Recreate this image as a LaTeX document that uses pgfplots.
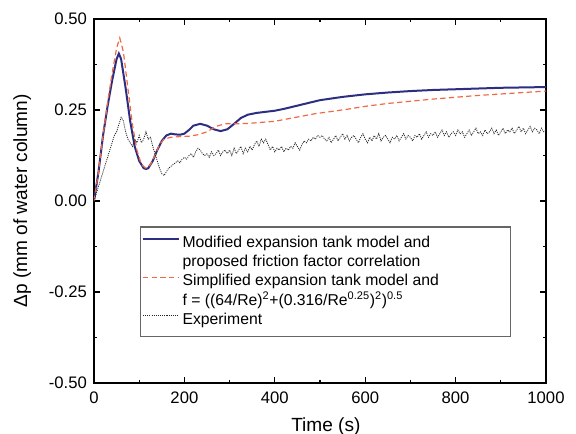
\documentclass[border=0pt]{standalone}
\usepackage{pgfplots}
\pgfplotsset{compat=1.18}
\usepackage{fontspec}
\setmainfont{Liberation Sans}
\definecolor{navyline}{RGB}{45,45,130}
\definecolor{redline}{RGB}{240,105,70}
\begin{document}
\begin{tikzpicture}
\useasboundingbox (-70.5pt,-38.25pt) rectangle (361.5pt,287.25pt);
\begin{axis}[
  anchor=south west, at={(0pt,0pt)},
  scale only axis, width=339pt, height=273pt,
  xmin=0, xmax=1000, ymin=-0.5, ymax=0.5,
  axis line style={line width=1pt},
  xtick={0,200,400,600,800,1000},
  xticklabels={0,200,400,600,800,1000},
  minor xtick={100,300,500,700,900},
  ytick={-0.5,-0.25,0,0.25,0.5},
  yticklabels={-0.50,-0.25,0.00,0.25,0.50},
  minor ytick={-0.375,-0.125,0.125,0.375},
  tick align=inside,
  major tick length=4.5pt, minor tick length=2.5pt,
  tick style={line width=0.9pt, black},
  ticklabel style={font=\fontsize{12.5}{14}\selectfont},
  xticklabel style={yshift=-3pt},
  yticklabel style={xshift=-1.8pt},
  xlabel={Time (s)},
  ylabel={Δp (mm of water column)},
  label style={font=\fontsize{14.3}{16}\selectfont},
  xlabel style={at={(axis description cs:0.513,-0.132)}, anchor=base},
  ylabel style={at={(axis description cs:-0.148,0.5)}, anchor=base},
  legend cell align=left,
  legend style={at={(rel axis cs:0.102,0.430)}, anchor=north west,
    draw=black!60, line width=0.8pt, fill=white, inner xsep=1pt, inner ysep=5pt,
    row sep=0pt, font=\fontsize{11.8}{14.6}\selectfont,
    nodes={text height=10pt, text depth=3.6pt, inner ysep=0.4pt}},
  legend image code/.code={\draw[#1] (0pt,0.33em) -- (27pt,0.33em);},
]
\addplot[navyline, line width=1.5pt] coordinates {
(0,0) (10,0.08) (20,0.18) (30,0.26) (40,0.33) (50,0.39) (55,0.405) (60,0.39)
(70,0.31) (80,0.22) (90,0.15) (100,0.11) (110,0.09) (115,0.088) (120,0.09)
(130,0.11) (140,0.14) (150,0.165) (160,0.18) (170,0.185) (180,0.183) (190,0.182)
(200,0.185) (210,0.195) (220,0.207) (235,0.212) (250,0.207) (265,0.197) (280,0.192)
(295,0.197) (310,0.212) (325,0.228) (340,0.237) (360,0.242) (380,0.245) (400,0.248)
(420,0.253) (440,0.259) (460,0.265) (480,0.271) (500,0.277) (550,0.286) (600,0.293)
(650,0.298) (700,0.302) (750,0.305) (800,0.307) (850,0.309) (900,0.311) (950,0.312)
(1000,0.313)
};
\addlegendentry{\makebox[243pt][l]{Modified expansion tank model and}}
\addlegendimage{empty legend}
\addlegendentry{proposed friction factor correlation}
\addplot[redline, line width=0.9pt, dash pattern=on 4pt off 2.5pt] coordinates {
(0,0) (10,0.08) (20,0.18) (30,0.27) (40,0.35) (50,0.42) (57,0.448) (65,0.41)
(75,0.31) (85,0.21) (95,0.14) (105,0.10) (115,0.09) (125,0.10) (135,0.125)
(145,0.155) (155,0.17) (170,0.175) (190,0.177) (210,0.178) (230,0.182) (250,0.19)
(270,0.205) (290,0.212) (310,0.212) (340,0.213) (370,0.216) (400,0.219) (430,0.226)
(460,0.233) (490,0.240) (520,0.245) (560,0.252) (600,0.26) (650,0.268) (700,0.274)
(750,0.28) (800,0.285) (850,0.29) (900,0.294) (950,0.298) (1000,0.302)
};
\addlegendentry{Simplified expansion tank model and}
\addlegendimage{empty legend}
\addlegendentry{f = ((64/Re)\textsuperscript{2}+(0.316/Re\textsuperscript{0.25})\textsuperscript{2})\textsuperscript{0.5}}
\addplot[black!85, line width=0.6pt, dash pattern=on 0.8pt off 0.8pt] coordinates {
(0,0.000) (5,0.02) (10,0.04) (15,0.06) (20,0.08) (25,0.10) (30,0.12) (35,0.14)
(40,0.16) (45,0.18) (50,0.19) (55,0.21) (60,0.23) (65,0.22) (70,0.19) (75,0.17)
(80,0.16) (85,0.15) (90,0.17) (95,0.16) (100,0.18) (105,0.16) (110,0.17) (115,0.19)
(120,0.17) (125,0.175) (130,0.15) (135,0.13) (140,0.11) (145,0.09) (150,0.075)
(155,0.07) (160,0.08) (165,0.09) (170,0.095) (175,0.10) (180,0.105) (185,0.11)
(190,0.105) (195,0.115) (200,0.12) (205,0.115) (210,0.125) (215,0.13) (220,0.12)
(225,0.135) (230,0.145) (235,0.14) (240,0.13) (245,0.125) (250,0.13) (255,0.12)
(260,0.135) (265,0.125) (270,0.13) (275,0.14) (280,0.125) (285,0.135) (290,0.14)
(295,0.13) (300,0.14) (305,0.125) (310,0.145) (315,0.13) (320,0.14) (325,0.15)
(330,0.13) (335,0.145) (340,0.135) (345,0.15) (350,0.14) (355,0.155) (360,0.165)
(365,0.15) (370,0.17) (375,0.16) (380,0.17) (385,0.155) (390,0.14) (395,0.15)
(400,0.135) (405,0.145) (410,0.14) (415,0.15) (420,0.135) (425,0.145) (430,0.14)
(435,0.15) (440,0.145) (445,0.16) (450,0.15) (455,0.14) (460,0.155) (465,0.165)
(470,0.16) (475,0.17) (480,0.165) (485,0.175) (490,0.17) (495,0.18) (500,0.175)
(505,0.18) (510,0.17) (515,0.165) (520,0.175) (525,0.16) (530,0.17) (535,0.18)
(540,0.165) (545,0.175) (550,0.185) (555,0.17) (560,0.18) (565,0.165) (570,0.175)
(575,0.18) (580,0.17) (585,0.16) (590,0.175) (595,0.185) (600,0.17) (605,0.16)
(610,0.175) (615,0.165) (620,0.18) (625,0.17) (630,0.185) (635,0.165) (640,0.175)
(645,0.18) (650,0.17) (655,0.16) (660,0.175) (665,0.17) (670,0.18) (675,0.165)
(680,0.175) (685,0.185) (690,0.17) (695,0.18) (700,0.175) (705,0.165) (710,0.18)
(715,0.175) (720,0.185) (725,0.17) (730,0.18) (735,0.19) (740,0.175) (745,0.185)
(750,0.18) (755,0.19) (760,0.175) (765,0.185) (770,0.195) (775,0.18) (780,0.19)
(785,0.175) (790,0.185) (795,0.19) (800,0.18) (805,0.195) (810,0.185) (815,0.19)
(820,0.175) (825,0.185) (830,0.195) (835,0.18) (840,0.19) (845,0.2) (850,0.185)
(855,0.19) (860,0.18) (865,0.195) (870,0.185) (875,0.19) (880,0.2) (885,0.185)
(890,0.195) (895,0.18) (900,0.19) (905,0.2) (910,0.185) (915,0.195) (920,0.19)
(925,0.2) (930,0.185) (935,0.195) (940,0.205) (945,0.19) (950,0.2) (955,0.185)
(960,0.195) (965,0.205) (970,0.19) (975,0.2) (980,0.195) (985,0.185) (990,0.2)
(995,0.19) (1000,0.195)
};
\addlegendentry{Experiment}
\end{axis}
\end{tikzpicture}
\end{document}
